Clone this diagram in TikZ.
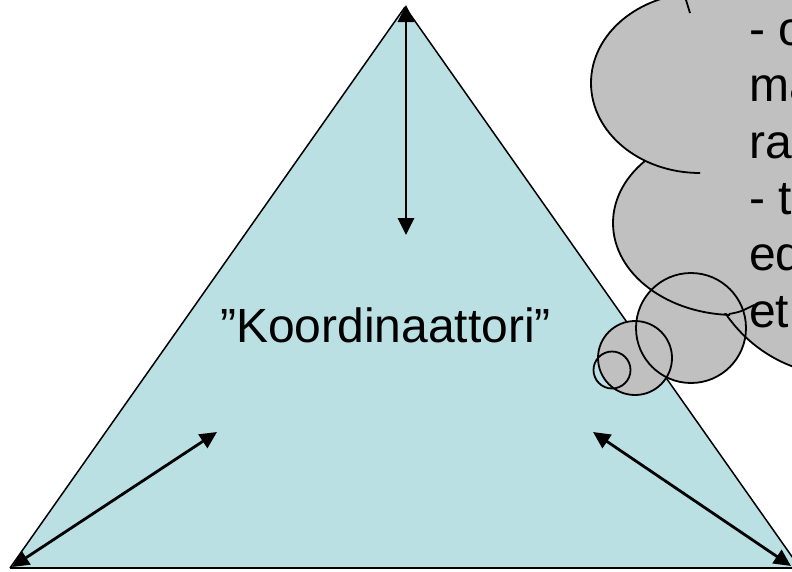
\documentclass[tikz,border=0pt]{standalone}
\usepackage{fontspec}
\setmainfont{Liberation Sans}
\usetikzlibrary{arrows.meta}
\definecolor{trifill}{HTML}{BBE0E3}
\definecolor{cloudgray}{HTML}{C0C0C0}
\begin{document}
\begin{tikzpicture}[x=1pt,y=-1pt,
  link/.style={line width=2.8pt,
    {Triangle[length=17pt,width=16pt]}-{Triangle[length=17pt,width=16pt]}},
  edge/.style={line width=1.5pt},
  cloudline/.style={line width=1.8pt},
  label/.style={font=\fontsize{48}{56}\selectfont, inner sep=0pt},
]
\useasboundingbox[fill=white] (0,0) rectangle (792,571);

% triangle
\coordinate (apex) at (405,7);
\coordinate (bl) at (10,568);
\coordinate (br) at (800,568);
\fill[trifill] (apex) -- (bl) -- (br) -- cycle;
\draw[edge, line join=miter] (apex) -- (bl);
\draw[edge, line join=miter] (apex) -- (br);
\draw[line width=2.6pt] (bl) -- (br);

% double-headed arrows
\coordinate (toptip) at (406,5);
\coordinate (topin) at (406,235);
\coordinate (lefttip) at (12,567);
\coordinate (leftin) at (217,432);
\coordinate (righttip) at (791,566);
\coordinate (rightin) at (593,432);
\draw[link] (toptip) -- (topin);
\draw[link] (lefttip) -- (leftin);
\draw[link] (righttip) -- (rightin);

\node[label, anchor=base] (koord) at (385.5,342) {”Koordinaattori”};

% thought cloud: fills first
\fill[cloudgray] (700,83) ellipse [x radius=109, y radius=90];
\fill[cloudgray] (735,223) ellipse [x radius=122, y radius=92];
\fill[cloudgray] (840,230) ellipse [x radius=140, y radius=145];
\fill[cloudgray] (700,0) rectangle (800,313);
\fill[cloudgray] (691,328) circle [radius=55];
\fill[cloudgray] (635,358) circle [radius=37];

% cloud outlines
\begin{scope}
  \clip (0,0) rectangle (700,200);
  \draw[cloudline] (700,83) ellipse [x radius=109, y radius=90];
\end{scope}
\begin{scope}
  \clip (0,161.5) rectangle (730,400);
  \draw[cloudline] (735,223) ellipse [x radius=122, y radius=92];
\end{scope}
\begin{scope}
  \clip (0,313) rectangle (800,600);
  \draw[cloudline] (840,230) ellipse [x radius=140, y radius=145];
\end{scope}
\draw[cloudline] (686,0) -- (690,13);
\draw[cloudline] (729,314) .. controls (740,312) .. (754,305);

% bubble trail
\draw[cloudline] (691,328) circle [radius=55];
\draw[cloudline] (635,358) circle [radius=37];
\draw[cloudline] (612,370) circle [radius=18.5];

% cloud text
\node[label, anchor=base west] (c1) at (749,45.5) {- o};
\node[label, anchor=base west] (c2) at (749,101.8) {ma};
\node[label, anchor=base west] (c3) at (749,158) {ra};
\node[label, anchor=base west] (c4) at (749,214.5) {- t};
\node[label, anchor=base west] (c5) at (749,270.8) {ed};
\node[label, anchor=base west] (c6) at (749,327) {et};
\end{tikzpicture}
\end{document}
